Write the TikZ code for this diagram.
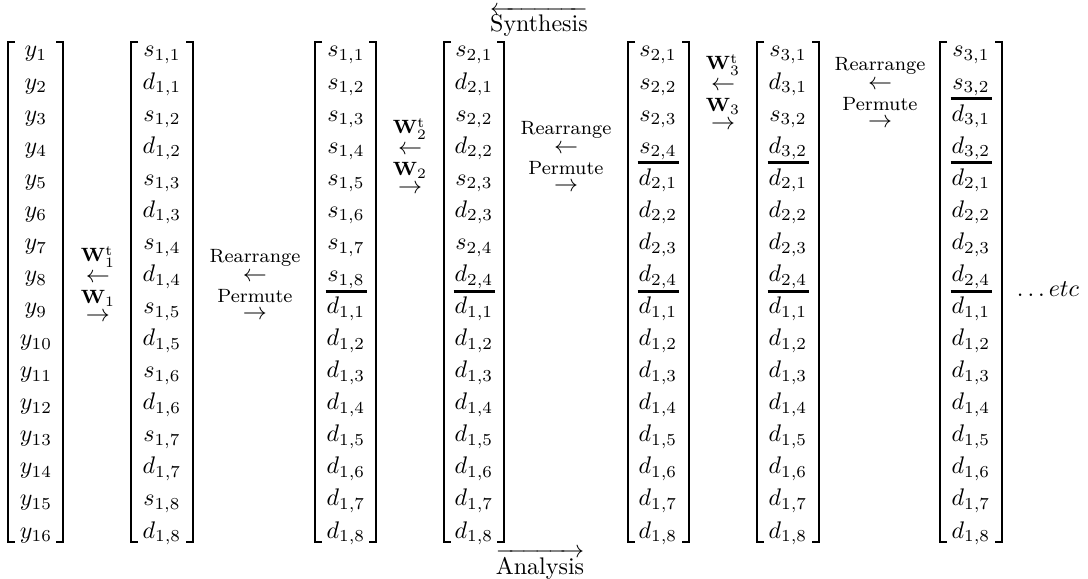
\documentclass[tikz,border=0pt]{standalone}
\usepackage{amsmath}
% brackets drawn as paths: left x, right x
\newcommand\bracketpair[2]{%
  \draw[brk] (#1+7,42) -- (#1,42) -- (#1,542) -- (#1+7,542);
  \draw[brk] (#2-7,42) -- (#2,42) -- (#2,542) -- (#2-7,542);}
% separating rule under a row: column centre, y
\newcommand\cutline[2]{\draw[cut] (#1-20.5,#2) -- (#1+20.5,#2);}
\begin{document}
\begin{tikzpicture}[x=0.41667pt,y=-0.41667pt,
  entry/.style={anchor=base,inner sep=0pt},
  brk/.style={line width=0.8pt},
  cut/.style={line width=1.25pt},
  lbl/.style={anchor=base,inner sep=0pt,font=\footnotesize},
  arr/.style={inner sep=0pt}]
\useasboundingbox (0,0) rectangle (1088,579);

% row baselines: 57 + (i-1)*32.07
% column 1
\foreach \i in {1,...,16}
  \node[entry] (ya\i) at (36,{57+(\i-1)*32.07}) {$y_{\i}$};
% column 2: interleaved s and d, level 1
\foreach \k in {1,...,8}{
  \node[entry] (sb\k) at (162,{57+(2*\k-2)*32.07}) {$s_{1,\k}$};
  \node[entry] (db\k) at (162,{57+(2*\k-1)*32.07}) {$d_{1,\k}$};}
% column 3: level 1 rearranged
\foreach \k in {1,...,8}{
  \node[entry] (sc\k) at (346,{57+(\k-1)*32.07}) {$s_{1,\k}$};
  \node[entry] (dc\k) at (346,{57+(\k+7)*32.07}) {$d_{1,\k}$};}
% column 4: level 2 interleaved
\foreach \k in {1,...,4}{
  \node[entry] (sd\k) at (474,{57+(2*\k-2)*32.07}) {$s_{2,\k}$};
  \node[entry] (dd\k) at (474,{57+(2*\k-1)*32.07}) {$d_{2,\k}$};}
\foreach \k in {1,...,8}
  \node[entry] (ed\k) at (474,{57+(\k+7)*32.07}) {$d_{1,\k}$};
% column 5: level 2 rearranged
\foreach \k in {1,...,4}{
  \node[entry] (se\k) at (658,{57+(\k-1)*32.07}) {$s_{2,\k}$};
  \node[entry] (de\k) at (658,{57+(\k+3)*32.07}) {$d_{2,\k}$};}
\foreach \k in {1,...,8}
  \node[entry] (ee\k) at (658,{57+(\k+7)*32.07}) {$d_{1,\k}$};
% column 6: level 3 interleaved
\foreach \k in {1,2}{
  \node[entry] (sf\k) at (788,{57+(2*\k-2)*32.07}) {$s_{3,\k}$};
  \node[entry] (df\k) at (788,{57+(2*\k-1)*32.07}) {$d_{3,\k}$};}
\foreach \k in {1,...,4}
  \node[entry] (ff\k) at (788,{57+(\k+3)*32.07}) {$d_{2,\k}$};
\foreach \k in {1,...,8}
  \node[entry] (ef\k) at (788,{57+(\k+7)*32.07}) {$d_{1,\k}$};
% column 7: level 3 rearranged
\foreach \k in {1,2}{
  \node[entry] (sg\k) at (971,{57+(\k-1)*32.07}) {$s_{3,\k}$};
  \node[entry] (dg\k) at (971,{57+(\k+1)*32.07}) {$d_{3,\k}$};}
\foreach \k in {1,...,4}
  \node[entry] (fg\k) at (971,{57+(\k+3)*32.07}) {$d_{2,\k}$};
\foreach \k in {1,...,8}
  \node[entry] (eg\k) at (971,{57+(\k+7)*32.07}) {$d_{1,\k}$};

% brackets
\bracketpair{8}{63}
\bracketpair{131}{193}
\bracketpair{315}{376}
\bracketpair{444}{504}
\bracketpair{628}{689}
\bracketpair{757}{819}
\bracketpair{940}{1002}

% separating rules
\cutline{346}{292}
\cutline{474}{292}
\cutline{658}{163}
\cutline{658}{292}
\cutline{788}{163}
\cutline{788}{292}
\cutline{971}{99}
\cutline{971}{163}
\cutline{971}{292}

% transform operators
\foreach \n/\x/\c in {1/98/292, 2/410/164, 3/723/100}{
  \node[lbl] (wt\n) at (\x,\c-30) {$\mathbf{W}_{\n}^{\mathrm{t}}$};
  \node[arr] (wl\n) at (\x,\c-14) {$\leftarrow$};
  \node[lbl] (wf\n) at (\x,\c+12) {$\mathbf{W}_{\n}$};
  \node[arr] (wr\n) at (\x,\c+25) {$\rightarrow$};}
% rearrange / permute operators
\foreach \n/\x/\c in {1/255/292, 2/566/164, 3/880/100}{
  \node[lbl] (ra\n) at (\x,\c-29) {Rearrange};
  \node[arr] (rl\n) at (\x,\c-15) {$\leftarrow$};
  \node[lbl] (pm\n) at (\x,\c+11) {Permute};
  \node[arr] (pr\n) at (\x,\c+23) {$\rightarrow$};}

\node[entry] (etc) at (1048,297) {$\ldots etc$};

\node[entry] (syn) at (539,32) {$\overleftarrow{\text{Synthesis}}$};
\node[entry] (ana) at (540,575) {$\overrightarrow{\text{Analysis}}$};
\end{tikzpicture}
\end{document}
